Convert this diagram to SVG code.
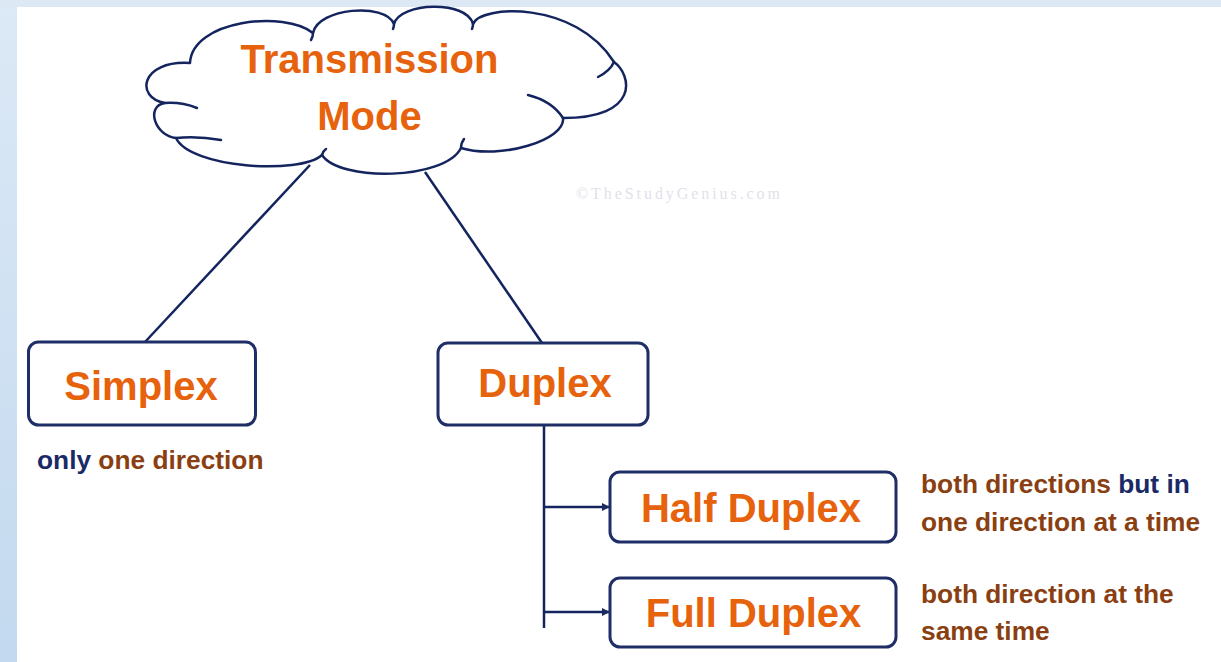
<svg xmlns="http://www.w3.org/2000/svg" width="1221" height="662" viewBox="0 0 1221 662">
  <defs>
    <linearGradient id="edge" x1="0" y1="0" x2="0" y2="1">
      <stop offset="0" stop-color="#dce9f6"/>
      <stop offset="1" stop-color="#c3d9ef"/>
    </linearGradient>
    <marker id="tip" viewBox="0 0 8 8" refX="8" refY="4" markerWidth="8" markerHeight="8" markerUnits="userSpaceOnUse" orient="auto">
      <path d="M0,0 L8,4 L0,8 z" fill="#1a2a62"/>
    </marker>
    <style>
      .box { fill: #ffffff; stroke: #1f2e66; stroke-width: 3; }
      .cloud { fill: #ffffff; stroke: #14245e; stroke-width: 2.5; stroke-linejoin: round; }
      .curl { fill: none; stroke: #14245e; stroke-width: 2.5; stroke-linecap: round; }
      .wire { fill: none; stroke: #14245e; stroke-width: 2.5; }
      .title { font-family: "Liberation Sans", Arial, sans-serif; font-weight: bold; font-size: 40px; fill: #e6620c; text-anchor: middle; }
      .note { font-family: "Liberation Sans", Arial, sans-serif; font-weight: bold; font-size: 26.3px; fill: #8a3f12; }
      .navy { fill: #1a2a66; }
    </style>
  </defs>

  <!-- page background and frame edges -->
  <rect x="0" y="0" width="1221" height="662" fill="#ffffff"/>
  <rect x="0" y="0" width="17" height="662" fill="url(#edge)"/>
  <rect x="0" y="0" width="1221" height="7" fill="#dce9f5"/>

  <!-- faint copyright mark -->
  <text x="576" y="199" font-family="Liberation Serif, serif" font-size="16" fill="#dfe2ea" textLength="204">©TheStudyGenius.com</text>

  <!-- connectors -->
  <g id="connectors">
    <line class="wire" x1="310" y1="165" x2="145" y2="342"/>
    <line class="wire" x1="425" y1="172" x2="542" y2="343"/>
    <line class="wire" x1="544" y1="425" x2="544" y2="628"/>
    <line class="wire" x1="544" y1="507" x2="610" y2="507" marker-end="url(#tip)"/>
    <line class="wire" x1="544" y1="612" x2="610" y2="612" marker-end="url(#tip)"/>
  </g>

  <!-- root cloud -->
  <g id="transmission-mode">
    <path class="cloud" d="M190,63 C192,20 285,10 313,33 C318,8 385,2 394,24 C400,2 467,0 473,24 C480,5 575,0 614,62 C632,75 640,118 563,118 C566,140 500,160 461,148 C445,180 340,182 322,155 C300,175 190,168 176,138 C155,136 145,106 165,103 C135,98 140,60 190,63 Z"/>
    <path class="curl" d="M614,62 Q610,71 598,77"/>
    <path class="curl" d="M563,118 Q552,101 528,95"/>
    <path class="curl" d="M461,148 Q461,143 464,139"/>
    <path class="curl" d="M322,155 Q323,151 326,149"/>
    <path class="curl" d="M176,138 Q198,136 221,140"/>
    <path class="curl" d="M165,103 Q182,102 197,108"/>
    <path class="curl" d="M313,33 Q313,37 311,40"/>
    <path class="curl" d="M394,24 Q394,27 393,29"/>
    <path class="curl" d="M473,24 Q473,27 472,29"/>
    <text class="title" x="369.5" y="73">Transmission</text>
    <text class="title" x="369.5" y="130">Mode</text>
  </g>

  <g id="simplex">
    <rect class="box" x="28.5" y="342" width="227" height="83" rx="10"/>
    <text class="title" x="141" y="400">Simplex</text>
    <text class="note" x="37" y="469"><tspan class="navy">only</tspan> one direction</text>
  </g>

  <g id="duplex">
    <rect class="box" x="438" y="343" width="210" height="82" rx="10"/>
    <text class="title" x="545" y="397">Duplex</text>
  </g>

  <g id="half-duplex">
    <rect class="box" x="610" y="472" width="286" height="70" rx="10"/>
    <text class="title" x="751" y="522">Half Duplex</text>
    <text class="note" x="921" y="493">both directions <tspan class="navy">but in</tspan></text>
    <text class="note" x="921" y="531">one direction at a time</text>
  </g>

  <g id="full-duplex">
    <rect class="box" x="610" y="578" width="286" height="69" rx="10"/>
    <text class="title" x="753.5" y="627">Full Duplex</text>
    <text class="note" x="921" y="603">both direction at the</text>
    <text class="note" x="921" y="640">same time</text>
  </g>
</svg>
